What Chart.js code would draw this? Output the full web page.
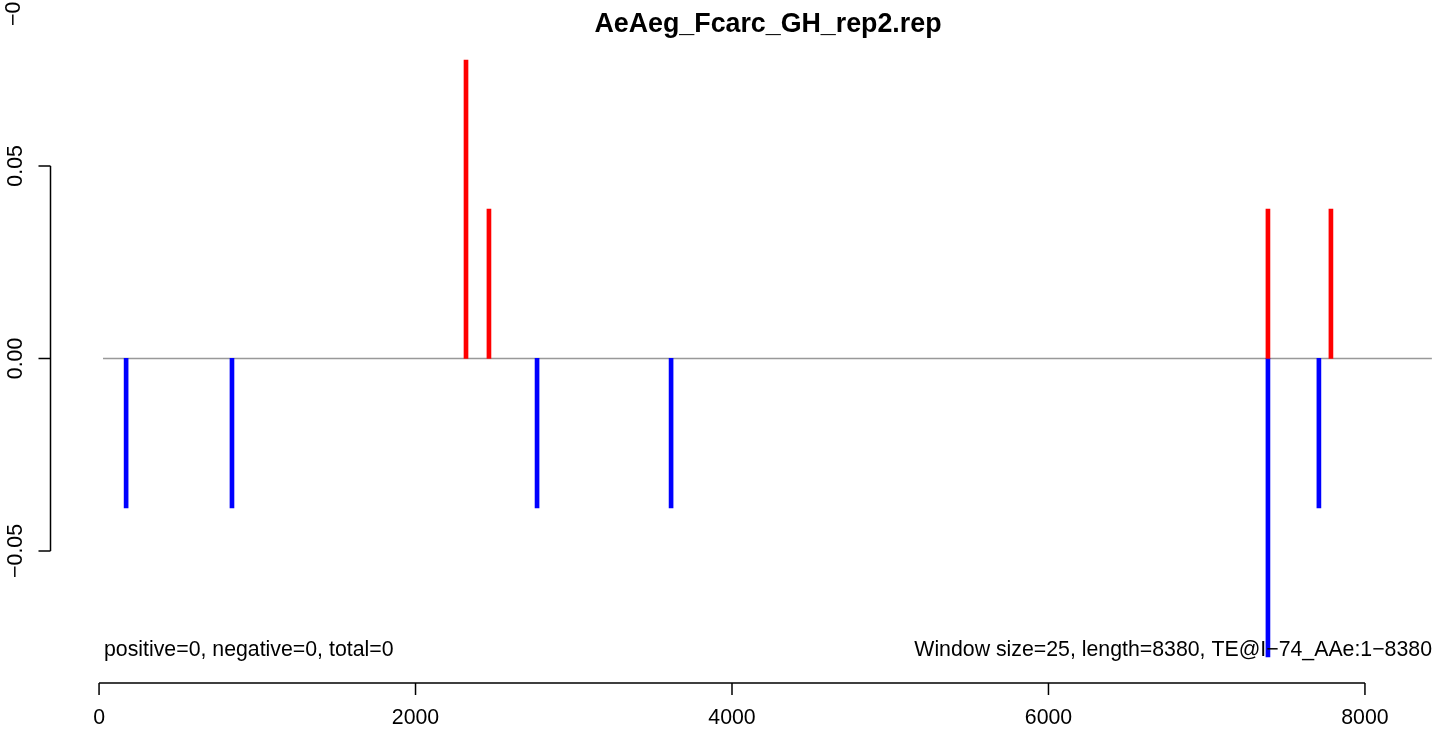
<!DOCTYPE html>
<html>
<head>
<meta charset="utf-8">
<script src="https://cdn.jsdelivr.net/npm/chart.js@4/dist/chart.umd.min.js"></script>
<style>
  html, body { margin: 0; padding: 0; background: #fff; overflow: hidden; }
  #wrap { width: 1439px; height: 732px; }
</style>
</head>
<body>
<div id="wrap"><canvas id="chart1"></canvas></div>
<script>
let titleText = 'AeAeg_Fcarc_GH_rep2.rep';
let leftNote = 'positive=0, negative=0, total=0';
let rightNote = 'Window size=25, length=8380, TE@I\u221274_AAe:1\u22128380';

// positive (red) and negative (blue) windows
let posX = [2319, 2464, 7387, 7785];
let posY = [0.0775, 0.0388, 0.0388, 0.0388];
let negX = [171, 840, 2768, 3615, 7387, 7709];
let negY = [-0.0388, -0.0388, -0.0388, -0.0388, -0.0775, -0.0388];

let xTicks = [0, 2000, 4000, 6000, 8000];
let yTicks = [-0.05, 0, 0.05];
let yTickLabels = ['\u22120.05', '0.00', '0.05'];
let baseFrom = 25, baseTo = 8423;

let ctx1 = document.getElementById('chart1');
let font = '"Liberation Sans", Arial, Helvetica, sans-serif';
let fs = 21.3;

let data1 = {
  datasets: [{
    label: 'pos',
    backgroundColor: '#ff0000',
    data: []
  }, {
    label: 'neg',
    backgroundColor: '#0000ff',
    data: []
  }]
};
for (let i = 0; i < posX.length; i++) {
  data1.datasets[0].data.push({ x: posX[i], y: [0, posY[i]] });
}
for (let i = 0; i < negX.length; i++) {
  data1.datasets[1].data.push({ x: negX[i], y: [0, negY[i]] });
}

let rAxes = {
  id: 'rAxes',
  beforeDatasetsDraw(chart) {
    let c = chart.ctx, xs = chart.scales.x, ys = chart.scales.y;
    let y0 = ys.getPixelForValue(0);
    c.save();
    c.strokeStyle = '#999999';
    c.lineWidth = 1.5;
    c.beginPath();
    c.moveTo(xs.getPixelForValue(baseFrom), y0);
    c.lineTo(xs.getPixelForValue(baseTo), y0);
    c.stroke();
    c.restore();
  },
  afterDraw(chart) {
    let c = chart.ctx, xs = chart.scales.x, ys = chart.scales.y;
    let left = chart.chartArea.left, bottom = chart.chartArea.bottom;
    c.save();
    c.strokeStyle = '#000';
    c.fillStyle = '#000';
    c.lineWidth = 1.5;
    // y axis
    let ax = left + 0.5;
    c.beginPath();
    c.moveTo(ax, ys.getPixelForValue(yTicks[0]));
    c.lineTo(ax, ys.getPixelForValue(yTicks[yTicks.length - 1]));
    for (let i = 0; i < yTicks.length; i++) {
      let py = ys.getPixelForValue(yTicks[i]);
      c.moveTo(ax, py);
      c.lineTo(ax - 12, py);
    }
    c.stroke();
    c.font = fs + 'px ' + font;
    c.textAlign = 'center';
    c.textBaseline = 'middle';
    for (let i = 0; i < yTicks.length; i++) {
      let py = ys.getPixelForValue(yTicks[i]);
      c.save();
      c.translate(16, py);
      c.rotate(-Math.PI / 2);
      c.fillText(yTickLabels[i], 0, 0);
      c.restore();
    }
    // stray label cut at top
    c.save();
    c.translate(14, 26);
    c.rotate(-Math.PI / 2);
    c.textAlign = 'left';
    c.fillText('\u22120.10', 0, 0);
    c.restore();
    // x axis
    let ay = bottom;
    c.beginPath();
    c.moveTo(xs.getPixelForValue(xTicks[0]), ay);
    c.lineTo(xs.getPixelForValue(xTicks[xTicks.length - 1]), ay);
    for (let i = 0; i < xTicks.length; i++) {
      let px = xs.getPixelForValue(xTicks[i]);
      c.moveTo(px, ay);
      c.lineTo(px, ay + 12);
    }
    c.stroke();
    for (let i = 0; i < xTicks.length; i++) {
      c.fillText(String(xTicks[i]), xs.getPixelForValue(xTicks[i]), 718);
    }
    // notes
    c.textAlign = 'left';
    c.fillText(leftNote, 104, 650);
    c.textAlign = 'right';
    c.fillText(rightNote, 1432, 650);
    // title
    c.font = 'bold 26.8px ' + font;
    c.textAlign = 'center';
    c.fillText(titleText, 768, 25);
    c.restore();
  }
};

let chart1 = new Chart(ctx1, {
  type: 'bar',
  data: data1,
  plugins: [rAxes],
  options: {
    responsive: true,
    maintainAspectRatio: false,
    animation: false,
    layout: {
      padding: { left: 50, right: 0, top: 35, bottom: 49 }
    },
    datasets: {
      bar: {
        grouped: false,
        barThickness: 4,
        borderWidth: 0
      }
    },
    plugins: {
      legend: { display: false },
      tooltip: { enabled: false }
    },
    scales: {
      x: {
        type: 'linear',
        display: false,
        offset: false,
        min: -310,
        max: 8468
      },
      y: {
        type: 'linear',
        display: false,
        min: -0.0843,
        max: 0.0840
      }
    }
  }
});
</script>
</body>
</html>
